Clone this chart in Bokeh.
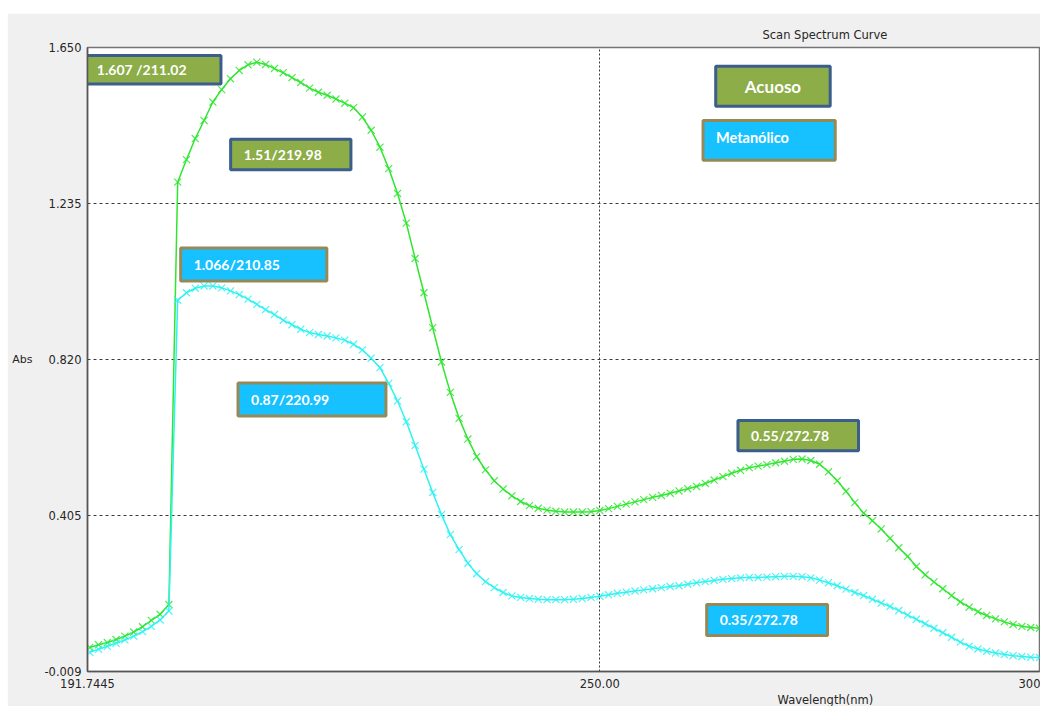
from bokeh.plotting import figure
from bokeh.models import Range1d, FixedTicker, Title
from bokeh.core.properties import value
from bokeh.embed import file_html
from bokeh.resources import INLINE

# Scan spectra, 1 nm steps from 192 to 300 nm
wavelength = list(range(192, 301))

acuoso = [
    0.055, 0.062, 0.068, 0.076, 0.085, 0.096, 0.110, 0.127, 0.143, 0.169,   # 192-201
    1.292, 1.352, 1.408, 1.456, 1.505, 1.538, 1.567, 1.589, 1.604, 1.611,   # 202-211
    1.605, 1.594, 1.583, 1.570, 1.557, 1.542, 1.531, 1.523, 1.513, 1.502,   # 212-221
    1.490, 1.465, 1.430, 1.385, 1.328, 1.262, 1.183, 1.089, 0.998, 0.905,   # 222-231
    0.814, 0.733, 0.664, 0.609, 0.562, 0.527, 0.498, 0.476, 0.458, 0.443,   # 232-241
    0.432, 0.425, 0.420, 0.417, 0.415, 0.415, 0.415, 0.416, 0.419, 0.424,   # 242-251
    0.430, 0.436, 0.442, 0.448, 0.454, 0.459, 0.465, 0.471, 0.477, 0.483,   # 252-261
    0.491, 0.500, 0.509, 0.518, 0.526, 0.533, 0.537, 0.541, 0.546, 0.550,   # 262-271
    0.555, 0.556, 0.552, 0.542, 0.522, 0.498, 0.470, 0.440, 0.412, 0.392,   # 272-281
    0.370, 0.345, 0.320, 0.297, 0.270, 0.248, 0.229, 0.211, 0.193, 0.176,   # 282-291
    0.162, 0.150, 0.140, 0.131, 0.123, 0.116, 0.111, 0.108, 0.106,          # 292-300
]

metanolico = [
    0.042, 0.050, 0.058, 0.066, 0.075, 0.085, 0.097, 0.111, 0.128, 0.152,   # 192-201
    0.978, 0.998, 1.010, 1.016, 1.016, 1.011, 1.003, 0.993, 0.981, 0.967,   # 202-211
    0.953, 0.940, 0.925, 0.913, 0.901, 0.892, 0.887, 0.883, 0.878, 0.872,   # 212-221
    0.861, 0.846, 0.824, 0.799, 0.757, 0.710, 0.655, 0.592, 0.529, 0.467,   # 222-231
    0.408, 0.355, 0.315, 0.279, 0.251, 0.230, 0.214, 0.201, 0.192, 0.188,   # 232-241
    0.185, 0.183, 0.182, 0.182, 0.182, 0.183, 0.185, 0.188, 0.191, 0.195,   # 242-251
    0.199, 0.202, 0.205, 0.208, 0.211, 0.214, 0.217, 0.219, 0.223, 0.227,   # 252-261
    0.230, 0.233, 0.236, 0.238, 0.240, 0.241, 0.241, 0.242, 0.243, 0.244,   # 262-271
    0.244, 0.243, 0.240, 0.234, 0.227, 0.219, 0.210, 0.201, 0.193, 0.183,   # 272-281
    0.173, 0.164, 0.153, 0.141, 0.130, 0.118, 0.106, 0.094, 0.082, 0.069,   # 282-291
    0.058, 0.051, 0.045, 0.040, 0.036, 0.033, 0.031, 0.029, 0.028,          # 292-300
]

x_tick_values = [191.7445, 250.0, 300.0]
x_tick_labels = ["191.7445", "250.00", "300"]
y_tick_values = [-0.009, 0.405, 0.820, 1.235, 1.650]
y_tick_labels = ["-0.009", "0.405", "0.820", "1.235", "1.650"]

# Callout notes: text, series they refer to
callout_texts = ["1.607 /211.02", "1.51/219.98", "1.066/210.85",
                 "0.87/220.99", "0.55/272.78", "0.35/272.78"]
callout_series = ["Acuoso", "Acuoso", "Metanólico",
                  "Metanólico", "Acuoso", "Metanólico"]

series_names = ["Acuoso", "Metanólico"]

# styles
LINE_COLORS = {"Acuoso": "#2fe62f", "Metanólico": "#2ff2f2"}
BOX_FILL = {"Acuoso": "#8cad48", "Metanólico": "#17c1ff"}
BOX_EDGE = {"Acuoso": "#3b5e8c", "Metanólico": "#958a57"}

# box extents in (wavelength, absorbance): left, right, bottom, top
callout_boxes = [
    (191.33, 206.92, 1.553, 1.629),
    (208.02, 221.70, 1.325, 1.406),
    (202.34, 218.96, 1.029, 1.117),
    (208.86, 225.68, 0.670, 0.758),
    (265.71, 279.42, 0.578, 0.658),
    (262.15, 275.90, 0.087, 0.169),
]
legend_boxes = [
    (263.18, 276.20, 1.494, 1.600),
    (261.74, 276.77, 1.350, 1.456),
]

X0, X1 = 191.7445, 300.0
Y0, Y1 = -0.009, 1.650

p = figure(width=1033, height=693, output_backend="svg", toolbar_location=None,
           x_range=Range1d(X0, X1), y_range=Range1d(Y0, Y1),
           min_border_left=80, min_border_right=1, min_border_top=34, min_border_bottom=34,
           background_fill_color="white", border_fill_color="#f0f0f0")
p.margin = (13, 0, 0, 7)
p.outline_line_color = "#747474"
p.outline_line_width = 1.5

for ax in (p.xaxis[0], p.yaxis[0]):
    ax.major_tick_line_color = None
    ax.minor_tick_line_color = None
    ax.major_tick_out = 0
    ax.major_tick_in = 0
    ax.axis_line_color = "#555555"
    ax.axis_line_width = 1.5
    ax.major_label_text_font = "DejaVu Sans"
    ax.major_label_text_font_size = "11.5px"
    ax.major_label_text_color = "#262626"
p.xaxis[0].ticker = FixedTicker(ticks=x_tick_values)
p.xaxis[0].major_label_overrides = dict(zip(x_tick_values, x_tick_labels))
p.xaxis[0].major_label_standoff = 7
p.yaxis[0].ticker = FixedTicker(ticks=y_tick_values)
p.yaxis[0].major_label_overrides = dict(zip(y_tick_values, y_tick_labels))
p.yaxis[0].major_label_standoff = 6
p.yaxis[0].axis_label = "Abs"
p.yaxis[0].axis_label_orientation = "horizontal"
p.yaxis[0].axis_label_standoff = 9
p.yaxis[0].axis_label_text_font = "DejaVu Sans"
p.yaxis[0].axis_label_text_font_size = "11px"
p.yaxis[0].axis_label_text_font_style = "normal"
p.yaxis[0].axis_label_text_color = "#262626"

p.ygrid.ticker = FixedTicker(ticks=y_tick_values)
p.ygrid.grid_line_color = "#3a3a3a"
p.ygrid.grid_line_dash = "3 3"
p.ygrid.grid_line_width = 1
p.xgrid.ticker = FixedTicker(ticks=x_tick_values)
p.xgrid.grid_line_color = "#3a3a3a"
p.xgrid.grid_line_dash = "2 2"
p.xgrid.grid_line_width = 1

# chart title above, wavelength caption below (both set toward the right)
p.add_layout(Title(text="Scan Spectrum Curve", align="left", offset=675, standoff=12,
                   text_font="DejaVu Sans", text_font_size="11.5px",
                   text_font_style="normal", text_color="#262626"), "above")
p.add_layout(Title(text="Wavelength(nm)", align="left", offset=690, standoff=0,
                   text_font="DejaVu Sans", text_font_size="11.5px",
                   text_font_style="normal", text_color="#262626"), "below")

# spectra
for name, ys in zip(series_names, [acuoso, metanolico]):
    col = LINE_COLORS[name]
    p.line(wavelength, ys, line_color=col, line_width=1.5)
    p.scatter(wavelength, ys, marker="x", size=10, line_color=col, line_width=1.2,
              line_alpha=0.85)

# callout boxes with values
for (l, r, b, t), txt, s in zip(callout_boxes, callout_texts, callout_series):
    p.quad(left=[l], right=[r], bottom=[b], top=[t], fill_color=BOX_FILL[s],
           line_color=BOX_EDGE[s], line_width=3)
    p.text(x=[l], y=[(b + t) / 2], text=[txt], x_offset=13, text_color="white",
           text_font=value("Lato"), text_font_style="bold", text_font_size="14px",
           text_baseline="middle", text_align="left")

# series key boxes
(l, r, b, t) = legend_boxes[0]
p.quad(left=[l], right=[r], bottom=[b], top=[t], fill_color=BOX_FILL["Acuoso"],
       line_color=BOX_EDGE["Acuoso"], line_width=3)
p.text(x=[(l + r) / 2], y=[(b + t) / 2], text=[series_names[0]], text_color="white",
       text_font=value("Lato"), text_font_style="bold", text_font_size="17px",
       text_baseline="middle", text_align="center")
(l, r, b, t) = legend_boxes[1]
p.quad(left=[l], right=[r], bottom=[b], top=[t], fill_color=BOX_FILL["Metanólico"],
       line_color=BOX_EDGE["Metanólico"], line_width=3)
p.text(x=[l], y=[(b + t) / 2], text=[series_names[1]], x_offset=13, y_offset=-3,
       text_color="white", text_font=value("Lato"), text_font_style="bold",
       text_font_size="14.5px", text_baseline="middle", text_align="left")

open("out.html", "w").write(file_html(p, INLINE))
